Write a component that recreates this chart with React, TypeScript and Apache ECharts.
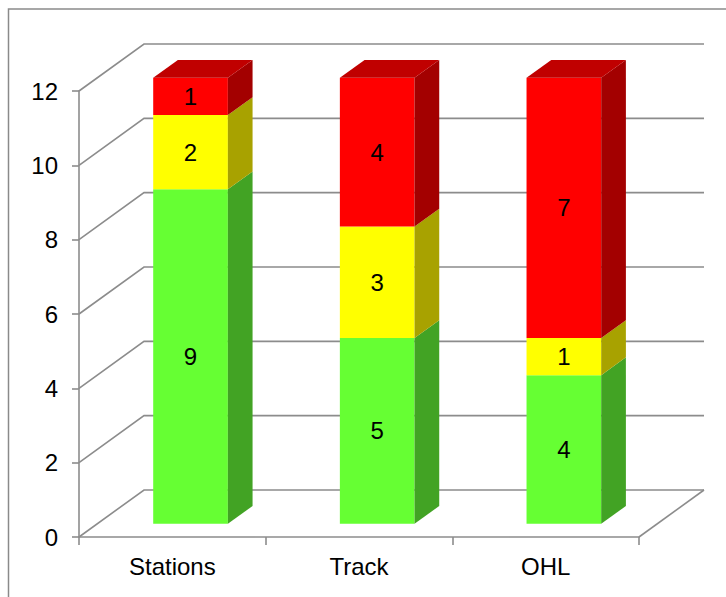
import React, { useEffect, useRef } from "react";
import * as echarts from "echarts";

const categories = ["Stations", "Track", "OHL"];
const greenValues = [9, 5, 4];
const yellowValues = [2, 3, 1];
const redValues = [1, 4, 7];
const yTicks = [0, 2, 4, 6, 8, 10, 12];

const DEPTH_X = 65;
const DEPTH_Y = -47;
const BAR_FRONT = 0.28;
const BAR_DEPTH = 0.38;
const BAR_WIDTH = 0.4;
const GRID_COLOR = "#8c8c8c";
const FONT = "'Liberation Sans', Arial, sans-serif";

const seriesDefs = [
  { name: "Green", values: greenValues, front: "#66FF33", side: "#42A324", top: "#52CC29" },
  { name: "Yellow", values: yellowValues, front: "#FFFF00", side: "#A8A200", top: "#CCCC00" },
  { name: "Red", values: redValues, front: "#FF0000", side: "#A30000", top: "#C00000" },
];

export default function App() {
  const ref = useRef<HTMLDivElement>(null);
  useEffect(() => {
    if (!ref.current) return;
    const chart = echarts.init(ref.current, undefined, { renderer: "svg" });

    const barData: any[] = [];
    categories.forEach((_, ci) => {
      let acc = 0;
      seriesDefs.forEach((s, si) => {
        const v = s.values[ci];
        barData.push({ value: [ci, acc, acc + v, v, si === seriesDefs.length - 1 ? 1 : 0, si] });
        acc += v;
      });
    });

    const renderBar = (params: any, api: any) => {
      const ci = api.value(0);
      const start = api.value(1);
      const end = api.value(2);
      const v = api.value(3);
      const isTop = api.value(4);
      const si = api.value(5);
      const s = seriesDefs[si];
      const p0 = api.coord([ci, start]);
      const p1 = api.coord([ci, end]);
      const bw = api.size([1, 0])[0] * BAR_WIDTH;
      const ox = DEPTH_X * BAR_FRONT;
      const oy = DEPTH_Y * BAR_FRONT;
      const dx = DEPTH_X * BAR_DEPTH;
      const dy = DEPTH_Y * BAR_DEPTH;
      const x0 = p0[0] + ox - bw / 2;
      const x1 = x0 + bw;
      const yb = p0[1] + oy;
      const yt = p1[1] + oy;
      const children: any[] = [
        { type: "rect", shape: { x: x0, y: yt, width: bw, height: yb - yt }, style: { fill: s.front } },
        {
          type: "polygon",
          shape: { points: [[x1, yb], [x1 + dx, yb + dy], [x1 + dx, yt + dy], [x1, yt]] },
          style: { fill: s.side },
        },
      ];
      if (isTop) {
        children.push({
          type: "polygon",
          shape: { points: [[x0, yt], [x1, yt], [x1 + dx, yt + dy], [x0 + dx, yt + dy]] },
          style: { fill: s.top },
        });
      }
      children.push({
        type: "text",
        style: {
          text: String(v),
          x: (x0 + x1) / 2,
          y: (yt + yb) / 2,
          align: "center",
          verticalAlign: "middle",
          fill: "#000",
          font: `24px ${FONT}`,
        },
      });
      return { type: "group", children };
    };

    const renderGrid = (params: any, api: any) => {
      const v = api.value(1);
      const p = api.coord([0, v]);
      const cs = params.coordSys;
      const xl = cs.x;
      const xr = cs.x + cs.width;
      const y = p[1];
      const children: any[] = [
        {
          type: "polyline",
          shape: { points: [[xl, y], [xl + DEPTH_X, y + DEPTH_Y], [xr + DEPTH_X, y + DEPTH_Y]] },
          style: { stroke: GRID_COLOR, lineWidth: 1.6, fill: "none" },
        },
      ];
      if (v === 0) {
        children.push({
          type: "line",
          shape: { x1: xr + DEPTH_X, y1: y + DEPTH_Y, x2: xr, y2: y },
          style: { stroke: GRID_COLOR, lineWidth: 1.6 },
        });
      }
      return { type: "group", children };
    };

    chart.setOption({
      animation: false,
      backgroundColor: "#fff",
      graphic: [
        {
          type: "rect",
          shape: { x: 8.5, y: 9, width: 800, height: 700 },
          style: { fill: "none", stroke: "#8a8a8a", lineWidth: 1.5 },
          z: 0,
        },
      ],
      grid: { left: 79, right: 87, top: 91, bottom: 60, containLabel: false },
      xAxis: {
        type: "category",
        data: categories,
        boundaryGap: true,
        axisLine: { show: true, lineStyle: { color: GRID_COLOR, width: 1.6 } },
        axisTick: { show: true, length: 8, alignWithLabel: false, lineStyle: { color: GRID_COLOR, width: 1.6 } },
        axisLabel: { color: "#000", fontSize: 24, fontFamily: FONT, margin: 17 },
        splitLine: { show: false },
      },
      yAxis: {
        type: "value",
        min: 0,
        max: 12,
        interval: 2,
        axisLine: { show: true, lineStyle: { color: GRID_COLOR, width: 1.6 } },
        axisTick: { show: true, length: 7, lineStyle: { color: GRID_COLOR, width: 1.6 } },
        axisLabel: { color: "#000", fontSize: 24, fontFamily: FONT, margin: 21 },
        splitLine: { show: false },
      },
      series: [
        {
          type: "custom",
          name: "grid",
          renderItem: renderGrid,
          data: yTicks.map((t) => [0, t]),
          z: 1,
          silent: true,
        },
        {
          type: "custom",
          name: "bars",
          renderItem: renderBar,
          data: barData,
          z: 2,
        },
      ],
    });
    return () => chart.dispose();
  }, []);
  return <div ref={ref} style={{ position: "fixed", left: 0, top: 0, width: 726, height: 597 }} />;
}
